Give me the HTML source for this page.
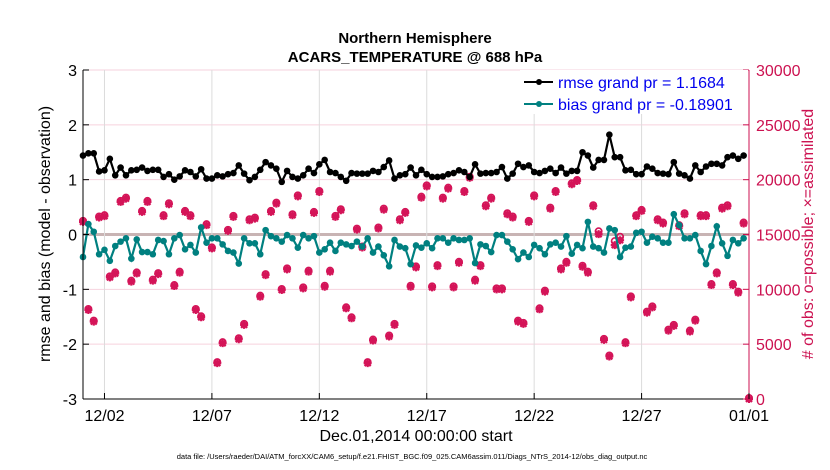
<!DOCTYPE html>
<html><head><meta charset="utf-8"><style>
html,body{margin:0;padding:0;background:#fff;}
svg{display:block;font-family:"Liberation Sans",sans-serif;}
</style></head><body>
<svg id="chart" width="830" height="470" xmlns="http://www.w3.org/2000/svg">
<text x="415" y="43" text-anchor="middle" font-size="15" font-weight="bold">Northern Hemisphere</text>
<text x="415" y="62" text-anchor="middle" font-size="15" font-weight="bold">ACARS_TEMPERATURE @ 688 hPa</text>
<g id="grid"></g>
<g id="marks"></g>
<g id="axes"></g>
<text transform="translate(50,234) rotate(-90)" text-anchor="middle" font-size="16">rmse and bias (model - observation)</text>
<text transform="translate(813,234) rotate(-90)" text-anchor="middle" font-size="16" fill="#cc1150"># of obs: o=possible; ×=assimilated</text>
<text x="416" y="441" text-anchor="middle" font-size="16">Dec.01,2014 00:00:00 start</text>
<text x="412" y="459" text-anchor="middle" font-size="7.5">data file: /Users/raeder/DAI/ATM_forcXX/CAM6_setup/f.e21.FHIST_BGC.f09_025.CAM6assim.011/Diags_NTrS_2014-12/obs_diag_output.nc</text>
<g>
<rect x="520" y="70" width="228" height="44" fill="#fff" stroke="none"/>
<line x1="524" y1="82" x2="553" y2="82" stroke="#000" stroke-width="2"/>
<circle cx="539" cy="82" r="3" fill="#000"/>
<text x="558" y="88" font-size="16" fill="#0000ee">rmse grand pr = 1.1684</text>
<line x1="524" y1="104" x2="553" y2="104" stroke="#008080" stroke-width="2"/>
<circle cx="539" cy="104" r="3" fill="#008080"/>
<text x="558" y="110" font-size="16" fill="#0000ee">bias grand pr = -0.18901</text>
</g>
</svg>
<script>
const rmse=[1.44,1.48,1.48,1.15,1.17,1.38,1.08,1.22,1.08,1.17,1.18,1.22,1.16,1.18,1.18,1.05,1.1,1.0,1.06,1.17,1.14,1.06,1.19,1.02,1.02,1.08,1.06,1.1,1.12,1.26,1.11,0.99,1.05,1.18,1.32,1.26,1.2,0.96,1.16,1.05,1.02,1.08,1.2,1.12,1.28,1.36,1.14,1.12,1.05,0.98,1.12,1.11,1.11,1.11,1.16,1.14,1.23,1.35,1.02,1.08,1.1,1.22,1.08,1.18,1.1,1.05,1.05,1.06,1.1,1.12,1.17,1.14,1.05,1.28,1.11,1.12,1.12,1.14,1.23,1.02,1.11,1.29,1.23,1.26,1.14,1.12,1.16,1.2,1.12,1.22,1.11,1.16,1.16,1.5,1.44,1.22,1.36,1.36,1.82,1.41,1.41,1.17,1.18,1.1,1.1,1.24,1.2,1.12,1.11,1.1,1.32,1.11,1.08,1.02,1.26,1.14,1.24,1.29,1.29,1.26,1.41,1.44,1.38,1.44];
const bias=[-0.41,0.19,0.05,-0.36,-0.28,-0.48,-0.21,-0.13,-0.07,-0.44,-0.09,-0.32,-0.32,-0.36,-0.1,-0.12,-0.36,-0.07,-0.01,-0.27,-0.19,-0.33,0.13,-0.15,-0.07,-0.07,-0.18,-0.3,-0.33,-0.53,-0.07,-0.16,-0.16,-0.36,0.08,-0.03,-0.07,-0.13,-0.01,-0.07,-0.24,-0.01,-0.07,-0.03,-0.33,-0.27,-0.15,-0.3,-0.15,-0.18,-0.21,-0.13,-0.22,-0.07,-0.33,-0.22,-0.38,-0.58,-0.1,-0.22,-0.25,-0.54,-0.2,-0.24,-0.16,-0.25,-0.07,-0.07,-0.15,-0.07,-0.1,-0.1,-0.07,-0.52,-0.18,-0.21,-0.32,-0.01,-0.01,-0.13,-0.27,-0.45,-0.33,-0.41,-0.19,-0.25,-0.36,-0.18,-0.15,-0.22,-0.03,-0.35,-0.19,-0.25,0.23,-0.22,-0.25,-0.33,0.11,0.08,-0.41,-0.24,-0.22,0.03,0.05,-0.15,-0.04,-0.07,-0.15,-0.15,0.37,0.17,-0.07,-0.07,-0.01,-0.3,-0.54,-0.21,0.15,-0.16,-0.39,-0.1,-0.16,-0.07];
const obsPossible=[16150,8120,7060,16550,16670,11090,11450,17970,18270,10700,11450,17060,17970,10790,11390,16670,17760,10300,11520,17060,16670,8120,7450,15850,13730,3270,5090,15330,16610,5450,6760,16300,16450,9330,11300,17060,17820,9940,11820,16760,18480,10090,11610,16970,18880,10240,11610,16610,17210,8270,7360,15450,13820,3270,5330,15550,17270,5700,6760,16300,16970,10240,12000,18360,19390,10180,12120,18270,19180,10180,12420,18880,20180,10790,12120,17580,18270,10000,10000,16850,16550,7060,6850,16150,18480,8180,9790,17360,18880,11820,12420,19580,19880,12060,11520,17580,15200,5390,3880,14300,14700,5090,9270,16670,17150,7880,8360,16300,16000,6240,6670,15760,16850,6150,7150,16670,16670,10390,11450,17360,17580,10390,9700,16000,0];
const obsAssim=[16150,8120,7060,16550,16670,11090,11450,17970,18270,10700,11450,17060,17970,10790,11390,16670,17760,10300,11520,17060,16670,8120,7450,15850,13730,3270,5090,15330,16610,5450,6760,16300,16450,9330,11300,17060,17820,9940,11820,16760,18480,10090,11610,16970,18880,10240,11610,16610,17210,8270,7360,15450,13820,3270,5330,15550,17270,5700,6760,16300,16970,10240,12000,18360,19390,10180,12120,18270,19180,10180,12420,18880,20180,10790,12120,17580,18270,10000,10000,16850,16550,7060,6850,16150,18480,8180,9790,17360,18880,11820,12420,19580,19880,12060,11520,17580,15030,5390,3880,14030,14480,5090,9270,16670,17150,7880,8360,16300,16000,6240,6670,15760,16850,6150,7150,16670,16670,10390,11450,17360,17580,10390,9700,16000,0];
const leftTicks=[-3,-2,-1,0,1,2,3];
const rightTicks=[0,5000,10000,15000,20000,25000,30000];
const xTickDays=[1,6,11,16,21,26,31];
const xTickLabels=["12/02","12/07","12/12","12/17","12/22","12/27","01/01"];
const stepDays=0.25;

const NS="http://www.w3.org/2000/svg";
const L=83,R=749,T=70,B=399;
const xs=d=>L+(d/31)*(R-L);
const yl=v=>B-(v+3)/6*(B-T);
const yr=v=>B-v/30000*(B-T);
function mk(tag,attrs,parent){const e=document.createElementNS(NS,tag);for(const k in attrs)e.setAttribute(k,attrs[k]);parent.appendChild(e);return e;}
const grid=document.getElementById('grid'),marks=document.getElementById('marks'),axes=document.getElementById('axes');

leftTicks.forEach(v=>{const l=mk('line',{x1:L,x2:R,y1:yl(v),y2:yl(v),stroke:v===0?'#c8b4b4':'#f6d2de','stroke-width':v===0?3:1},grid);

});
xTickDays.forEach(d=>{const l=mk('line',{x1:xs(d),x2:xs(d),y1:T,y2:B,stroke:'#dcdcdc','stroke-width':1},grid);

});

// obs
obsPossible.forEach((c,i)=>{const x=xs(i*stepDays),y=yr(c);
const o=mk('circle',{cx:x,cy:y-1,r:3.2,fill:'none',stroke:'#d41458','stroke-width':1.6},marks);

});
obsAssim.forEach((c,i)=>{const x=xs(i*stepDays),y=yr(c);
const g=mk('path',{d:`M${x-4},${y}H${x+4}M${x},${y-4}V${y+4}M${x-3},${y-3}L${x+3},${y+3}M${x-3},${y+3}L${x+3},${y-3}`,stroke:'#d41458','stroke-width':2.2},marks);

});

function series(vals,color,name){
const p=mk('polyline',{points:vals.map((v,i)=>xs(i*stepDays)+','+yl(v)).join(' '),fill:'none',stroke:color,'stroke-width':2.2},marks);


vals.forEach((v,i)=>{const c=mk('circle',{cx:xs(i*stepDays),cy:yl(v),r:3.3,fill:color},marks);

});}
series(bias,'#008080','bias');
series(rmse,'#000','rmse');

// axes
let a=mk('line',{x1:L,x2:L,y1:T,y2:B,stroke:'#000','stroke-width':1},axes);

a=mk('line',{x1:L,x2:R,y1:B,y2:B,stroke:'#000','stroke-width':1},axes);

a=mk('line',{x1:R,x2:R,y1:T,y2:B,stroke:'#cc1150','stroke-width':1},axes);

leftTicks.forEach(v=>{mk('line',{x1:L,x2:L+6,y1:yl(v),y2:yl(v),stroke:'#000'},axes);
const t=mk('text',{x:L-6,y:yl(v)+6,'text-anchor':'end','font-size':16},axes);t.textContent=v;

});
rightTicks.forEach(v=>{mk('line',{x1:R-6,x2:R,y1:yr(v),y2:yr(v),stroke:'#cc1150'},axes);
const t=mk('text',{x:R+7,y:yr(v)+6,'font-size':16,fill:'#cc1150'},axes);t.textContent=v;

});
xTickDays.forEach((d,i)=>{mk('line',{x1:xs(d),x2:xs(d),y1:B,y2:B-6,stroke:'#000'},axes);
const t=mk('text',{x:xs(d),y:B+22,'text-anchor':'middle','font-size':16},axes);t.textContent=xTickLabels[i];

});
</script>
</body></html>
